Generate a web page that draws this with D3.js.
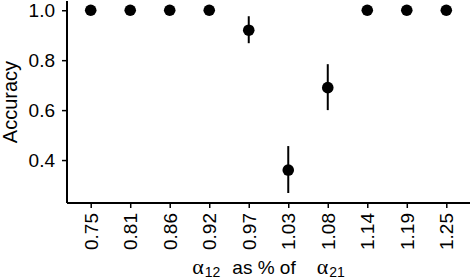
<!DOCTYPE html>
<html><head><meta charset="utf-8">
<script src="https://cdn.jsdelivr.net/npm/d3@7"></script>
<style>body{margin:0;background:#fff}svg{display:block}</style>
</head><body>
<script>
const categories = ["0.75","0.81","0.86","0.92","0.97","1.03","1.08","1.14","1.19","1.25"];
const accuracy = [1.0,1.0,1.0,1.0,0.92,0.36,0.69,1.0,1.0,1.0];
const lower = [1.0,1.0,1.0,1.0,0.868,0.268,0.60,1.0,1.0,1.0];
const upper = [1.0,1.0,1.0,1.0,0.976,0.456,0.784,1.0,1.0,1.0];
const yTicks = [0.4,0.6,0.8,1.0];

const W=470,H=280;
const m={left:67,right:0,top:1,bottom:77};
const FONT="Liberation Sans, Arial, sans-serif";
const svg=d3.select("body").append("svg").attr("width",W).attr("height",H);
const n=categories.length, step=(W-m.right-m.left)/(n-1+1.2);
const xs=d3.scalePoint().domain(categories).range([m.left+0.6*step,W-m.right-0.6*step]);
const y=d3.scaleLinear().domain([0.228,1.037]).range([H-m.bottom,m.top]);

const g=svg.append("g");
const ya=g.append("g").attr("transform",`translate(${m.left},0)`)
 .call(d3.axisLeft(y).tickValues(yTicks).tickFormat(d3.format(".1f")).tickSize(5).tickPadding(7));
ya.select(".domain").attr("d",`M0,${H-m.bottom}V${m.top}`).attr("stroke","#000").attr("stroke-width",2);
ya.selectAll(".tick line").attr("stroke","#000").attr("stroke-width",1.5);
ya.selectAll(".tick text").attr("font-family",FONT).attr("font-size",19).attr("fill","#000");

const xa=g.append("g").attr("transform",`translate(0,${H-m.bottom})`)
 .call(d3.axisBottom(xs).tickSize(5).tickPadding(3));
xa.select(".domain").attr("d",`M${m.left},0H${W-m.right}`).attr("stroke","#000").attr("stroke-width",2);
xa.selectAll(".tick line").attr("stroke","#000").attr("stroke-width",1.5);
xa.selectAll(".tick text").attr("font-family",FONT).attr("font-size",19).attr("fill","#000")
 .attr("transform","rotate(-90)").attr("text-anchor","end").attr("x",-10).attr("y",0).attr("dy","0.35em");

g.selectAll(".err").data(categories).enter().append("line")
 .attr("x1",d=>xs(d)).attr("x2",d=>xs(d))
 .attr("y1",(d,i)=>y(lower[i])).attr("y2",(d,i)=>y(upper[i]))
 .attr("stroke","#000").attr("stroke-width",2);
g.selectAll(".pt").data(categories).enter().append("circle")
 .attr("cx",d=>xs(d)).attr("cy",(d,i)=>y(accuracy[i])).attr("r",5.8).attr("fill","#000");

svg.append("text").attr("transform",`translate(17,${(m.top+H-m.bottom)/2}) rotate(-90)`)
 .attr("text-anchor","middle").attr("font-family",FONT).attr("font-size",20).text("Accuracy");

const t=svg.append("text").attr("x",(m.left+W-m.right)/2).attr("y",274).attr("text-anchor","middle")
 .attr("font-family",FONT).attr("font-size",19);
t.append("tspan").attr("font-family","Liberation Serif, serif").attr("font-size",22).text("α");
t.append("tspan").attr("font-size",14).attr("dx",1).attr("dy",2.5).text("12");
t.append("tspan").attr("dx",12).attr("dy",-2.5).text("as % of");
t.append("tspan").attr("dx",21).attr("font-family","Liberation Serif, serif").attr("font-size",22).text("α");
t.append("tspan").attr("font-size",14).attr("dx",1).attr("dy",2.5).text("21");
</script>
</body></html>
